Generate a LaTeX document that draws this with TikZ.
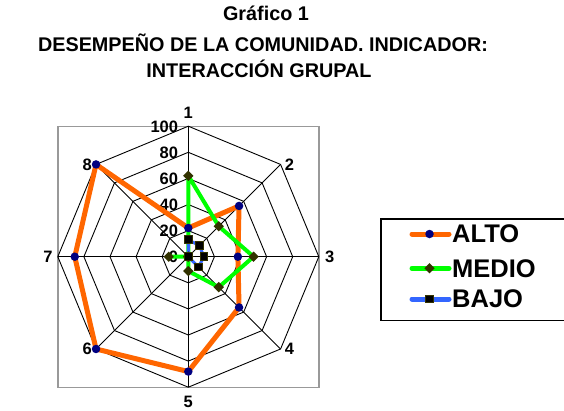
\documentclass[tikz,border=0pt]{standalone}
\usepackage{fontspec}
\setmainfont{Liberation Sans}
\usetikzlibrary{shapes.geometric}
\definecolor{altoline}{HTML}{FF6600}
\definecolor{altomark}{HTML}{000080}
\definecolor{medioline}{HTML}{00FF00}
\definecolor{mediomark}{HTML}{333300}
\definecolor{bajoline}{HTML}{3366FF}
\definecolor{boxgray}{HTML}{999999}
\begin{document}
\begin{tikzpicture}[x=1pt,y=1pt,
  titletxt/.style={font=\bfseries\fontsize{19.8}{22}\selectfont, inner sep=0, anchor=base},
  axtxt/.style={font=\bfseries\fontsize{16.5}{18}\selectfont, inner sep=0},
  legtxt/.style={font=\bfseries\fontsize{25.5}{28}\selectfont, inner sep=0, anchor=west},
  gridln/.style={draw=black, line width=0.9},
  altoln/.style={draw=altoline, line width=5, line join=round},
  medioln/.style={draw=medioline, line width=4, line join=round},
  bajoln/.style={draw=bajoline, line width=3, line join=round},
  altomk/.style={circle, fill=altomark, inner sep=0, minimum size=8.5},
  mediomk/.style={diamond, aspect=1, fill=mediomark, inner sep=0, minimum size=10.5},
  bajomk/.style={rectangle, fill=black, draw=mediomark, line width=1, inner sep=0, minimum size=7.5},
]
\useasboundingbox (0,0) rectangle (564,-410);
\def\R{130.5}
% title
\node[titletxt] (t1) at (266,-20) {Gráfico 1};
\node[titletxt] (t2) at (263,-51) {DESEMPEÑO DE LA COMUNIDAD. INDICADOR:};
\node[titletxt] (t3) at (259,-77) {INTERACCIÓN GRUPAL};
% plot area
\draw[boxgray, line width=1.4] (57.8,-126.2) rectangle (318.8,-387.2);
\begin{scope}[shift={(188.3,-256.7)}]
  \coordinate (c) at (0,0);
  \foreach \k in {1,...,8}
    \coordinate (v\k) at ({90-45*(\k-1)}:\R);
  \foreach \r in {0.2,0.4,0.6,0.8,1}
    \draw[gridln] (90:{\r*\R}) -- (45:{\r*\R}) -- (0:{\r*\R}) -- (-45:{\r*\R})
      -- (-90:{\r*\R}) -- (-135:{\r*\R}) -- (180:{\r*\R}) -- (135:{\r*\R}) -- cycle;
  \foreach \k in {1,...,8}
    \draw[gridln] (c) -- (v\k);
  % value labels
  \foreach \v in {0,20,40,60,80,100}
    \node[axtxt, anchor=east] (val\v) at (-10,{\v*\R/100-0.5}) {\v};
  % axis labels
  \node[axtxt, anchor=south] (lab1) at ([yshift=8]v1) {1};
  \node[axtxt, anchor=west] (lab2) at ([xshift=4]v2) {2};
  \node[axtxt, anchor=west] (lab3) at ([xshift=6]v3) {3};
  \node[axtxt, anchor=west] (lab4) at ([xshift=4]v4) {4};
  \node[axtxt, anchor=north] (lab5) at ([yshift=-9]v5) {5};
  \node[axtxt, anchor=east] (lab6) at ([xshift=-4]v6) {6};
  \node[axtxt, anchor=east] (lab7) at ([xshift=-5]v7) {7};
  \node[axtxt, anchor=east] (lab8) at ([xshift=-4]v8) {8};
  % data
  \foreach \v [count=\i] in {22,55,38,55,88,100,87,100}
    \coordinate (a\i) at ({90-45*(\i-1)}:{\v*\R/100});
  \foreach \v [count=\i] in {62,33,50,33,11,0,15,0}
    \coordinate (m\i) at ({90-45*(\i-1)}:{\v*\R/100});
  \foreach \v [count=\i] in {13,12,12,11,0,0,0,0}
    \coordinate (b\i) at ({90-45*(\i-1)}:{\v*\R/100});
  \draw[altoln] (a1) -- (a2) -- (a3) -- (a4) -- (a5) -- (a6) -- (a7) -- (a8) -- cycle;
  \draw[medioln] (m1) -- (m2) -- (m3) -- (m4) -- (m5) -- (m6) -- (m7) -- (m8) -- cycle;
  \draw[bajoln] (b1) -- (b2) -- (b3) -- (b4) -- (b5) -- (b6) -- (b7) -- (b8) -- cycle;
  \foreach \i in {1,...,8} \node[altomk] (am\i) at (a\i) {};
  \foreach \i in {1,...,8} \node[mediomk] (mm\i) at (m\i) {};
  \foreach \i in {1,...,8} \node[bajomk] (bm\i) at (b\i) {};
\end{scope}
% legend
\draw[black, line width=1.4] (381,-219) rectangle (572,-320.7);
\foreach \nm/\yy/\txt in {alto/234/ALTO, medio/268.3/MEDIO, bajo/299/BAJO} {
  \coordinate (\nm L) at (412,-\yy);
  \coordinate (\nm R) at (449,-\yy);
  \draw[\nm ln, line width=5, line cap=round] (\nm L) -- (\nm R);
  \node[\nm mk] (\nm K) at (429.5,-\yy) {};
  \node[legtxt] (\nm T) at (452,-\yy) {\txt};
}
\end{tikzpicture}
\end{document}
